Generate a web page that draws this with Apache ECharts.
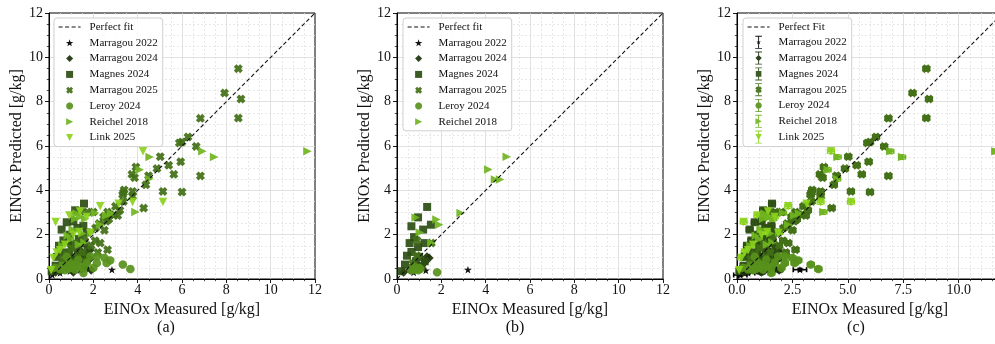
<!DOCTYPE html>
<html>
<head>
<meta charset="utf-8">
<script src="https://cdn.jsdelivr.net/npm/echarts@6/dist/echarts.min.js"></script>
<style>
  html, body { margin: 0; background: #fff; }
  #chart { width: 995px; height: 344px; }
</style>
</head>
<body>
<div id="chart"></div>
<script>
// ---- data ----
const names = ['Marragou 2022', 'Marragou 2024', 'Magnes 2024', 'Marragou 2025', 'Leroy 2024', 'Reichel 2018', 'Link 2025'];
const colors = ['#000000', '#1c320b', '#2c4e12', '#416f16', '#58911c', '#70b41f', '#8bd21c'];

// panels (a) and (c)
const m22A = [[2.84,0.42],[1.78,0.45],[1.4,0.4],[0.95,0.35],[0.5,0.27],[0.15,0.18]];
const m24A = [[1.85,1.3],[1.7,1.0],[1.5,0.9],[1.3,0.75],[1.0,0.6],[0.8,0.5],[0.5,0.35],[0.3,0.3],
  [1.6,0.55],[1.2,1.05],[0.7,0.8],[1.85,0.9],[1.1,0.3],[1.9,0.4],[1.45,1.25],[0.95,0.95]];
const mag24A = [[1.58,3.4],[1.18,3.1],[0.8,2.56],[0.57,2.23],[1.28,2.3],[0.65,1.74],[0.45,1.5],[1.03,1.5],
  [1.7,2.1],[1.55,2.4],[1.35,1.8],[0.9,1.2],[1.75,1.3],[1.2,0.9],[0.3,0.6],[0.7,0.7],[0.12,0.35],
  [1.45,1.15],[0.95,2.0],[0.35,1.0],[1.1,2.6],[0.55,1.2],[1.6,1.6],[0.85,1.7],[1.3,1.35]];
const m25A = [[8.54,9.49],[7.92,8.39],[8.66,8.12],[8.54,7.26],[6.83,7.25],[6.27,6.41],[6.0,6.18],[5.88,6.14],
  [6.64,5.98],[5.02,5.52],[5.4,5.13],[5.94,5.29],[4.87,4.98],[3.92,5.05],[4.49,4.66],[5.63,4.72],[6.83,4.65],
  [3.74,4.72],[3.86,4.57],[3.39,4.02],[3.36,3.9],[3.32,3.8],[3.77,3.95],[3.77,3.73],[4.37,4.25],[5.14,3.95],
  [6.0,3.92],[4.27,3.2],[3.36,3.5],[3.0,3.28],[3.1,2.86],[2.64,3.02],[2.94,2.9],[2.46,2.8],[2.0,3.02],
  [1.73,3.02],[2.58,2.6],[2.26,2.5],[2.64,1.32],[2.31,1.62],[2.08,1.73],[1.45,3.05],[1.2,1.6],[1.0,1.4],
  [0.8,1.1],[1.5,1.2],[1.9,1.5],[0.6,0.9],[1.3,1.0],[1.7,0.8],[2.2,1.2],[0.4,0.5],[1.1,0.6],[2.5,2.2],
  [2.7,2.7],[3.2,3.1],[1.6,1.9],[0.9,0.8],[2.1,2.3]];
const ler24A = [[3.67,0.45],[3.33,0.65],[2.76,0.84],[2.6,0.72],[2.16,1.02],[1.86,1.02],[1.55,0.5],[1.4,0.55],
  [1.18,0.42],[0.72,0.4],[0.5,0.43],[0.95,0.72],[1.33,0.87],[1.7,0.72],[2.16,0.72],[1.55,0.27],[0.27,0.5],
  [0.8,1.0],[2.5,0.95],[1.0,0.5],[0.6,0.6],[2.0,0.5],[1.15,0.65],[0.85,0.45]];
const rei18A = [[11.66,5.76],[6.92,5.76],[7.45,5.5],[4.54,5.5],[4.09,4.93],[4.52,4.51],[3.9,3.02],[2.58,2.86],
  [2.08,2.98],[1.4,2.8],[1.18,2.72],[1.63,2.72],[1.07,2.23],[1.5,2.05],[0.85,1.95],[1.9,2.1],[1.35,1.55],
  [0.6,1.5],[2.3,2.45],[1.0,1.8],[1.6,1.65],[2.8,2.95],[1.25,2.95]];
const link25A = [[4.24,5.76],[5.14,3.47],[3.77,3.47],[3.14,3.4],[2.31,3.28],[0.3,2.57],[0.92,2.86],[1.4,3.05],
  [1.86,2.08],[0.2,0.95],[0.5,1.3],[0.72,1.55],[1.36,2.12],[0.35,1.2],[1.1,2.0],[1.7,2.8],[0.1,0.4]];

// panel (b)
const m22B = [[3.2,0.42],[1.3,0.39],[0.75,0.3]];
const m24B = [[1.45,0.95],[1.25,0.75],[1.0,0.6],[0.8,0.5],[1.35,1.0],[0.6,0.4],[0.3,0.3]];
const mag24B = [[1.36,3.25],[0.95,2.78],[0.65,2.38],[1.18,2.23],[0.77,1.89],[0.57,1.62],[0.95,1.44],[1.24,1.62],
  [1.53,2.45],[0.65,1.22],[0.45,1.05],[1.0,1.0],[1.25,0.8],[0.36,0.65],[0.2,0.35],[0.85,0.8],[1.1,0.55]];
const m25B = [[0.9,1.74],[1.55,1.62],[0.9,1.05],[0.7,0.7]];
const ler24B = [[1.81,0.3],[0.75,0.42],[0.85,0.45],[0.95,0.4],[1.05,0.45],[0.65,0.4],[0.8,0.55],[1.0,0.5]];
const rei18B = [[4.95,5.51],[4.12,4.94],[4.42,4.49],[4.65,4.49],[2.87,2.98],[1.78,2.68],[1.9,2.45],[0.84,2.78],
  [1.03,2.1],[1.55,1.62]];

// error bar half-widths for panel (c), one per dataset
const errX = [0.3, 0.15, 0.15, 0.15, 0.15, 0.15, 0.15];
const errY = [0.06, 0.1, 0.1, 0.1, 0.1, 0.1, 0.1];

const fitLine = [[0, 0], [12, 12]];
const xTicksC = [0, 2.5, 5, 7.5, 10];

// ---- marker shapes ----
function poly(pts) {
  return 'M' + pts.map(p => p[0].toFixed(3) + ',' + p[1].toFixed(3)).join('L') + 'Z';
}
function ring(n, r0, r1, a0) {
  const pts = [];
  for (let i = 0; i < n; i++) {
    const a = a0 + i * 2 * Math.PI / n;
    const r = i % 2 ? r1 : r0;
    pts.push([r * Math.cos(a), r * Math.sin(a)]);
  }
  return pts;
}
const w = 0.42;
const plus = [[-w,-1],[w,-1],[w,-w],[1,-w],[1,w],[w,w],[w,1],[-w,1],[-w,w],[-1,w],[-1,-w],[-w,-w]];
const c45 = Math.SQRT1_2;
const shapes = [
  ring(10, 1, 0.4, -Math.PI / 2),                           // star
  [[0,-1],[1,0],[0,1],[-1,0]],                              // diamond
  [[-1,-1],[1,-1],[1,1],[-1,1]],                            // square
  plus.map(p => [(p[0] - p[1]) * c45, (p[0] + p[1]) * c45]), // filled X
  ring(24, 1, 1, 0),                                        // circle
  [[-1,-1],[1,0],[-1,1]],                                   // triangle right
  [[-1,-1],[1,-1],[0,1]]                                    // triangle down
];
const sizes = [8, 9, 8, 9, 8.5, 8.5, 8.5];
const iconR = [2.6, 3.4, 3, 3.6, 3.4, 3.4, 3.4];
const ibeam = 'M-3.6,-7L3.6,-7L3.6,-6.1L0.5,-6.1L0.5,6.1L3.6,6.1L3.6,7L-3.6,7L-3.6,6.1L-0.5,6.1L-0.5,-6.1L-3.6,-6.1Z';

const FONT = 'Liberation Serif';

// ---- layout ----
const panels = [
  { left: 49, sets: [m22A, m24A, mag24A, m25A, ler24A, rei18A, link25A], fit: 'Perfect fit', err: false },
  { left: 397, sets: [m22B, m24B, mag24B, m25B, ler24B, rei18B], fit: 'Perfect fit', err: false },
  { left: 737, sets: [m22A, m24A, mag24A, m25A, ler24A, rei18A, link25A], fit: 'Perfect Fit', err: true }
];

const grids = [], xAxes = [], yAxes = [], series = [];
const baseAxis = {
  min: 0, max: 12,
  axisLine: { show: true, lineStyle: { color: '#000', width: 1 } },
  axisTick: { show: true, length: 4, inside: false, lineStyle: { color: '#000', width: 0.9 } },
  minorTick: { show: true, splitNumber: 4, length: 2.2, lineStyle: { color: '#000', width: 0.7 } },
  splitLine: { show: true, showMinLine: false, showMaxLine: false, lineStyle: { color: '#d9d9d9', width: 0.8 } },
  minorSplitLine: { show: true, lineStyle: { color: '#e2e2e2', width: 0.8, type: [2, 2] } },
  nameLocation: 'middle',
  nameTextStyle: { fontFamily: FONT, fontSize: 16, color: '#111' }
};

panels.forEach((p, g) => {
  grids.push({ left: p.left, top: 13, width: 266, height: 266, show: true,
    borderColor: '#000', borderWidth: 1, backgroundColor: 'transparent', outerBoundsMode: 'none' });
  const isC = g === 2;
  xAxes.push(Object.assign({}, baseAxis, {
    gridIndex: g, type: 'value', interval: isC ? 2.5 : 2,
    minorTick: Object.assign({}, baseAxis.minorTick, { splitNumber: isC ? 5 : 4 }),
    name: 'EINOx Measured [g/kg]', nameGap: 14,
    axisLabel: { fontFamily: FONT, fontSize: 14, color: '#111', margin: 4, showMaxLabel: !isC,
      formatter: v => isC ? (xTicksC.indexOf(v) >= 0 ? v.toFixed(1) : '') : String(v) }
  }));
  yAxes.push(Object.assign({}, baseAxis, {
    gridIndex: g, type: 'value', interval: 2,
    name: 'EINOx Predicted [g/kg]', nameGap: 19, nameRotate: 90,
    axisLabel: { fontFamily: FONT, fontSize: 14, color: '#111', margin: 6 }
  }));

  p.sets.forEach((d, i) => {
    if (p.err) {
      series.push({
        type: 'custom', name: 'err' + i, xAxisIndex: g, yAxisIndex: g, silent: true, z: 2,
        data: d.map(pt => [pt[0], pt[1], errX[i], errY[i]]),
        encode: { x: 0, y: 1 },
        renderItem: (params, api) => {
          const x = api.value(0), y = api.value(1), ex = api.value(2), ey = api.value(3);
          const l = api.coord([x - ex, y]), r = api.coord([x + ex, y]);
          const t = api.coord([x, y + ey]), b = api.coord([x, y - ey]);
          const st = { stroke: colors[i], lineWidth: 1.6 };
          const ln = (x1, y1, x2, y2) => ({ type: 'line', shape: { x1, y1, x2, y2 }, style: st });
          return { type: 'group', children: [
            ln(l[0], l[1], r[0], r[1]), ln(l[0], l[1] - 2.5, l[0], l[1] + 2.5), ln(r[0], r[1] - 2.5, r[0], r[1] + 2.5),
            ln(t[0], t[1], b[0], b[1]), ln(t[0] - 2.5, t[1], t[0] + 2.5, t[1]), ln(b[0] - 2.5, b[1], b[0] + 2.5, b[1])
          ] };
        }
      });
    }
    series.push({
      type: 'scatter', name: names[i], xAxisIndex: g, yAxisIndex: g, z: 3,
      data: d, symbol: 'path://' + poly(shapes[i]), symbolSize: sizes[i], symbolKeepAspect: true,
      itemStyle: { color: colors[i], opacity: 0.92 }
    });
  });

  series.push({
    type: 'line', name: p.fit, xAxisIndex: g, yAxisIndex: g, data: fitLine, symbol: 'none', showSymbol: false,
    z: 5, silent: true, color: '#111', itemStyle: { color: '#111' },
    lineStyle: { color: '#111', width: 1.1, type: [4, 2.5] }
  });
});

const legendBase = {
  orient: 'vertical', top: 18, padding: [3, 5, 3, 4], itemWidth: 22, itemHeight: 7, itemGap: 3.8,
  backgroundColor: 'rgba(255,255,255,0.85)', borderColor: '#cfcfcf', borderWidth: 1, borderRadius: 3,
  selectedMode: false, symbolKeepAspect: true,
  textStyle: { fontFamily: FONT, fontSize: 11, color: '#111', lineHeight: 12, padding: [0, 0, 0, 4] }
};
const fitItem = n => ({ name: n, itemStyle: { opacity: 0 }, lineStyle: { color: '#111', type: [4, 2.5], width: 1.2 } });
const legends = [
  Object.assign({}, legendBase, { left: 54, data: [fitItem('Perfect fit')].concat(names) }),
  Object.assign({}, legendBase, { left: 403, data: [fitItem('Perfect fit')].concat(names.slice(0, 6)) }),
  Object.assign({}, legendBase, { left: 743, itemHeight: 13, itemGap: 2.8,
    data: [fitItem('Perfect Fit')].concat(names.map((n, i) => ({
      name: n, icon: 'path://' + ibeam + poly(shapes[i].map(q => [q[0] * iconR[i], q[1] * iconR[i]]))
    }))) })
];

const chart = echarts.init(document.getElementById('chart'), null, { renderer: 'canvas' });
chart.setOption({
  animation: false,
  backgroundColor: '#fff',
  grid: grids,
  xAxis: xAxes,
  yAxis: yAxes,
  legend: legends,
  series: series,
  graphic: [
    { type: 'text', x: 166, y: 328, style: { text: '(a)', font: '16px "Liberation Serif"', fill: '#111', align: 'center', verticalAlign: 'middle' } },
    { type: 'text', x: 515, y: 328, style: { text: '(b)', font: '16px "Liberation Serif"', fill: '#111', align: 'center', verticalAlign: 'middle' } },
    { type: 'text', x: 856, y: 328, style: { text: '(c)', font: '16px "Liberation Serif"', fill: '#111', align: 'center', verticalAlign: 'middle' } }
  ]
});
</script>
</body>
</html>
